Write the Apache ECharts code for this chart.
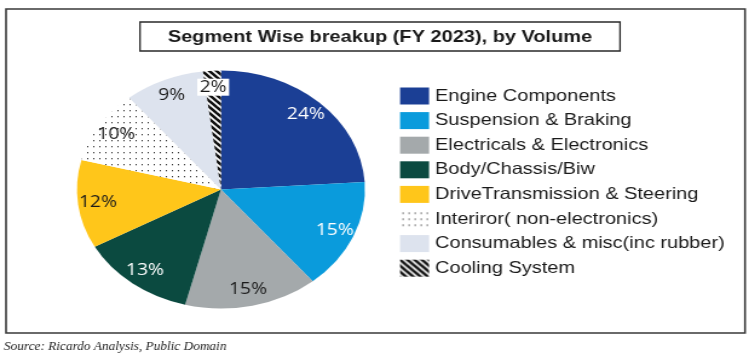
<!DOCTYPE html>
<html><head><meta charset="utf-8">
<script src="https://cdn.jsdelivr.net/npm/echarts@6/dist/echarts.min.js"></script>
<style>
html,body{margin:0;padding:0;background:#fff;overflow:hidden}
#wrap{width:749px;height:357px;overflow:hidden;position:relative;background:#fff}
#chart{position:absolute;left:0;top:0;width:619px;height:357px;transform:scaleX(1.21);transform-origin:0 0}
</style></head>
<body><div id="wrap"><div id="chart"></div></div>
<script>
// ---- data ----
const categories = ['Engine Components','Suspension & Braking','Electricals & Electronics','Body/Chassis/Biw','DriveTransmission & Steering','Interiror( non-electronics)','Consumables & misc(inc rubber)','Cooling System'];
const shares = [24, 15, 15, 13, 12, 10, 9, 2];
const titleText = 'Segment Wise breakup (FY 2023), by Volume';
const sourceText = 'Source: Ricardo Analysis, Public Domain';

// ---- styles ----
function dotPattern(){
  const c=document.createElement('canvas'); c.width=5; c.height=6;
  const g=c.getContext('2d'); g.fillStyle='#fff'; g.fillRect(0,0,5,6);
  g.fillStyle='#3a3a3a'; g.fillRect(2,2,1,1.3);
  return {image:c, repeat:'repeat'};
}
function stripePattern(){
  const n=6; const c=document.createElement('canvas'); c.width=n; c.height=n;
  const g=c.getContext('2d'); g.fillStyle='#fff'; g.fillRect(0,0,n,n);
  g.strokeStyle='#111'; g.lineWidth=2.6;
  for(let k=-1;k<=1;k++){ g.beginPath(); g.moveTo(-1,k*n-1); g.lineTo(n+1,n+k*n+1); g.stroke(); }
  return {image:c, repeat:'repeat'};
}
const fills = ['#1b3f95','#0a9bdc','#a4a9ab','#0b4a40','#ffc61a', dotPattern(), '#dde3ee', stripePattern()];
const labelColors = ['#ffffff','#ffffff','#1a1a1a','#ffffff','#1a1a1a','#1a1a1a','#1a1a1a','#1a1a1a'];

const SX = 1.21;
const chart = echarts.init(document.getElementById('chart'), null, {renderer:'canvas'});
const cx = 182.6, cy = 189.5, R = 119;

const sliceData = categories.map((name,i)=>({name, value: shares[i], itemStyle:{color: fills[i]}}));
const labelData = categories.map((name,i)=>{
  const lbl = {color: labelColors[i]};
  if (i === categories.length-1) { lbl.backgroundColor = '#ffffff'; lbl.padding = [1,2,0,2]; }
  return {name, value: shares[i], label: lbl};
});

chart.setOption({
  animation:false,
  backgroundColor:'#fff',
  legend:{
    orient:'vertical', left:330.6, top:87.5, padding:0,
    itemWidth:24, itemHeight:17, itemGap:7.6, icon:'rect',
    selectedMode:false,
    textStyle:{fontFamily:'Liberation Sans, Arial, sans-serif', fontSize:16.5, color:'#1a1a1a', lineHeight:17},
    data: categories
  },
  series:[
    {
      type:'pie', name:'slices', center:[cx,cy], radius:R, startAngle:90, clockwise:true,
      label:{show:false}, labelLine:{show:false}, silent:true,
      itemStyle:{borderWidth:0},
      emphasis:{disabled:true},
      data: sliceData
    },
    {
      type:'pie', name:'labels', center:[cx,cy], radius:[80,R], startAngle:90, clockwise:true,
      silent:true, emphasis:{disabled:true},
      itemStyle:{color:'rgba(0,0,0,0)', borderWidth:0},
      labelLine:{show:false},
      label:{show:true, position:'inside', formatter:'{c}%', fontFamily:'Open Sans, sans-serif', fontSize:16, fontWeight:'normal'},
      data: labelData
    }
  ],
  graphic:[
    {type:'rect', shape:{x:5, y:9, width:610.7, height:324}, style:{fill:'none', stroke:'#3a3a3a', lineWidth:1.6}, silent:true},
    {type:'rect', shape:{x:115.7, y:22, width:396.7, height:29}, style:{fill:'none', stroke:'#2a2a2a', lineWidth:1.3}, silent:true},
    {type:'text', x:314, y:37, style:{text:titleText, textAlign:'center', textVerticalAlign:'middle', fontFamily:'Liberation Sans, Arial, sans-serif', fontWeight:'bold', fontSize:16.5, fill:'#1a1a1a'}, silent:true},
    {type:'text', x:3.3, y:346.5, scaleX:1/SX, style:{text:sourceText, textAlign:'left', textVerticalAlign:'middle', fontFamily:'Liberation Serif, Times New Roman, serif', fontStyle:'italic', fontSize:13.3, fill:'#222222'}, silent:true}
  ]
});
</script>
</body></html>
